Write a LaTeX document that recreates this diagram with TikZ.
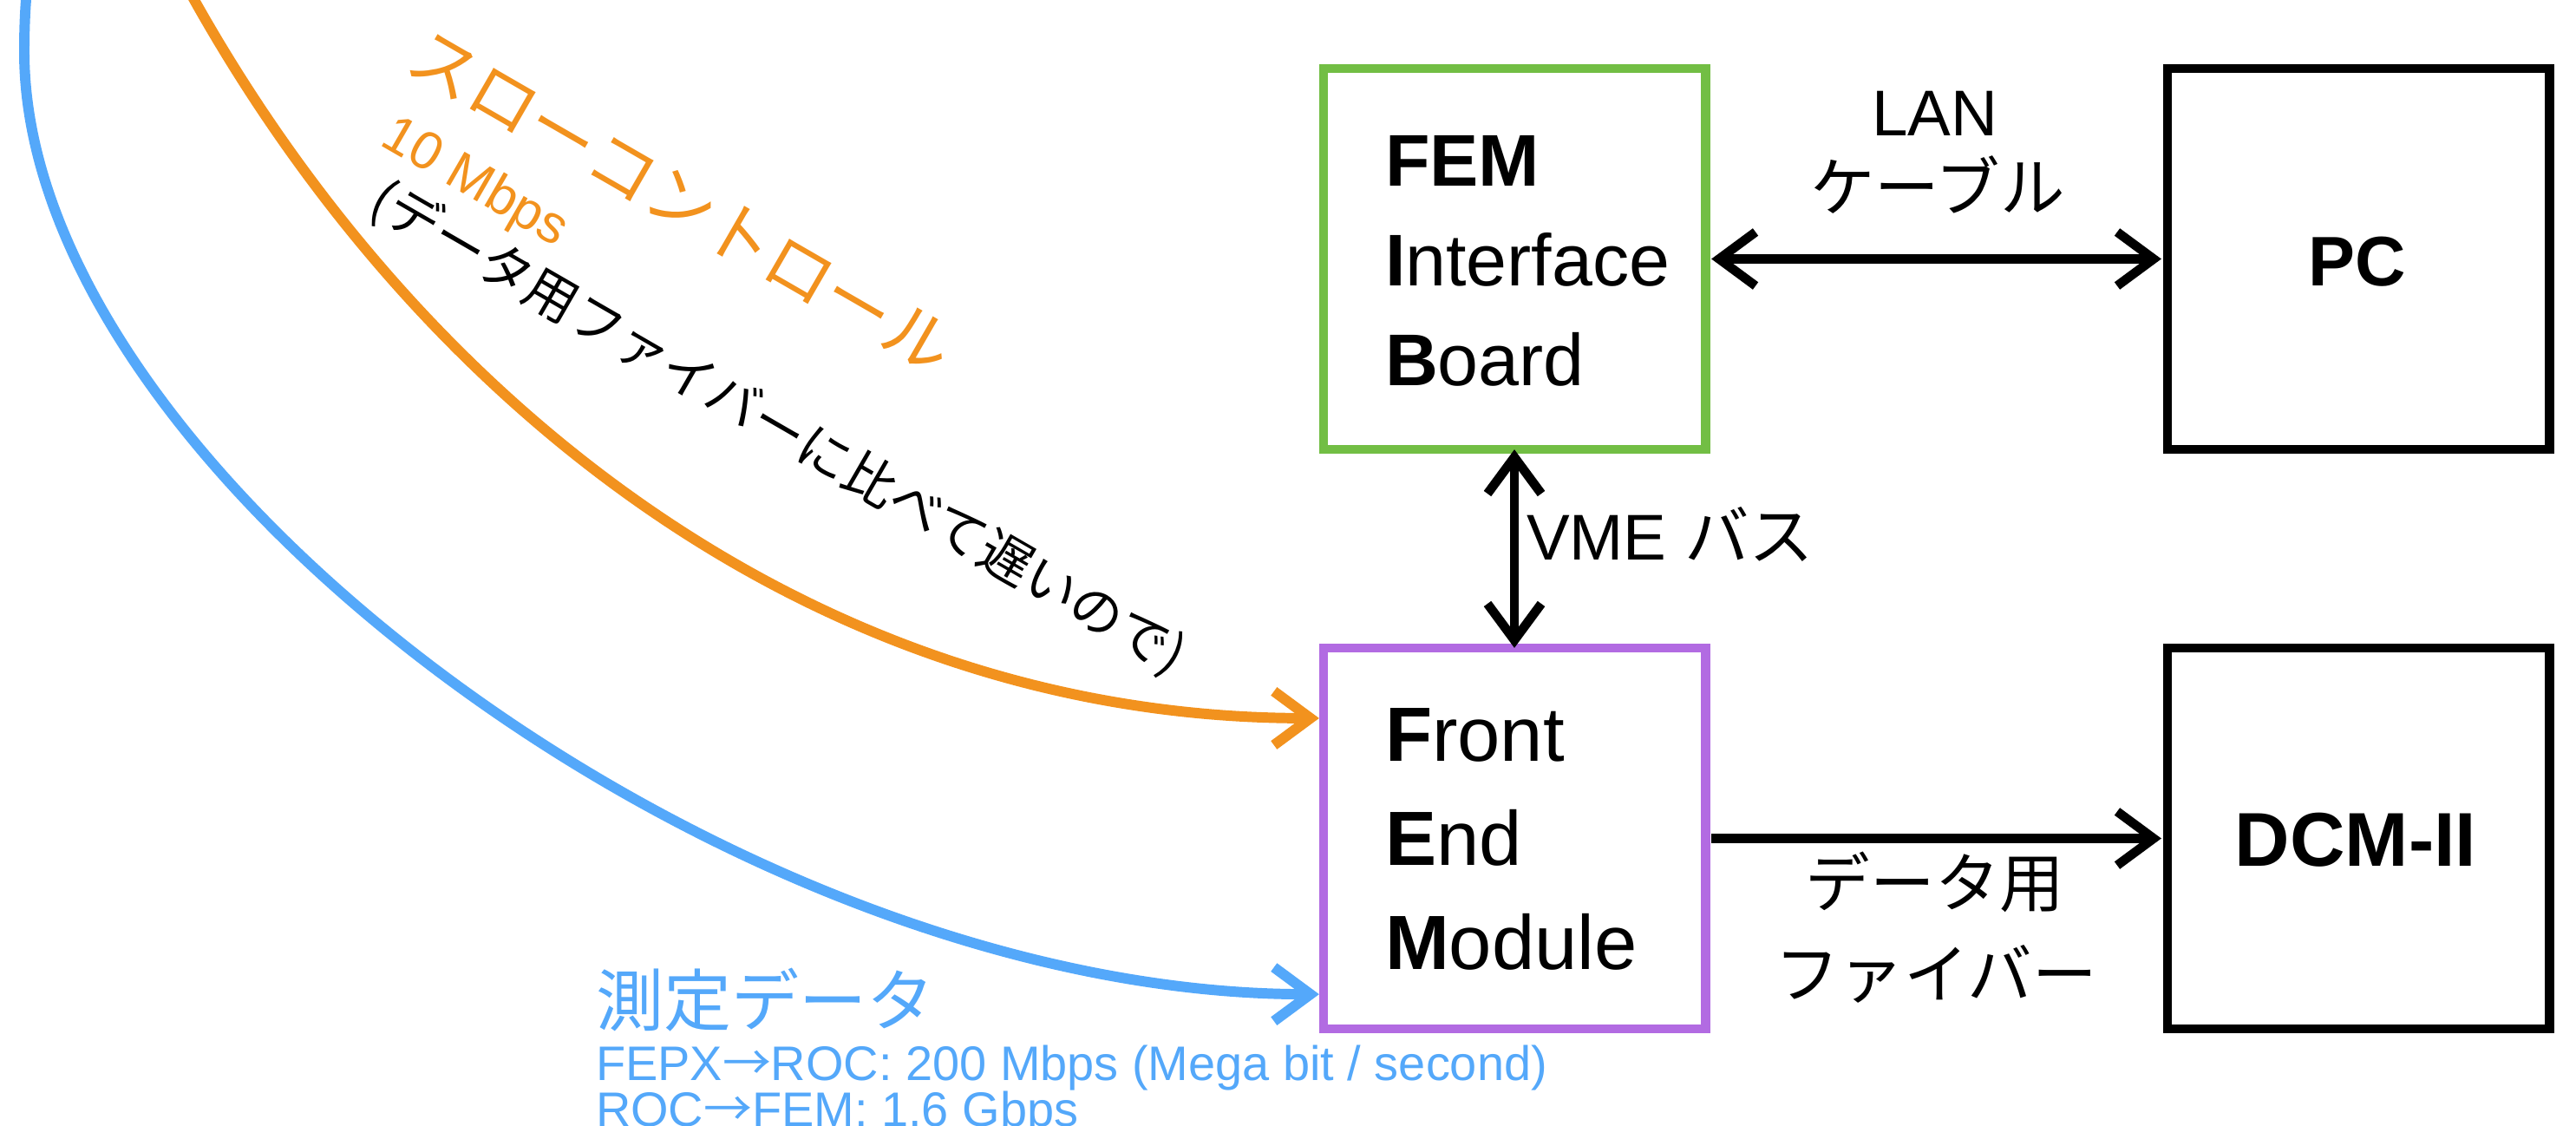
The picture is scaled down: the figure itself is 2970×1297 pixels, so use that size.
\documentclass[tikz,border=0pt]{standalone}
\usepackage{fontspec}
\setmainfont{Liberation Sans}
\newfontfamily\jp{Noto Sans CJK JP}
\usetikzlibrary{arrows.meta}
\definecolor{kOrange}{RGB}{242,146,30}
\definecolor{kBlue}{RGB}{84,168,250}
\definecolor{kGreen}{RGB}{114,190,68}
\definecolor{kPurple}{RGB}{178,107,226}
\begin{document}
\begin{tikzpicture}[x=0.01cm,y=-0.01cm,
  >={Straight Barb[length=0.42cm,width=0.62cm]},
  box/.style={draw, line width=3.04pt, minimum width=4.4cm, minimum height=4.39cm, outer sep=0pt, inner sep=0pt},
  conn/.style={line width=3pt},
  inflow/.style={line width=3.4pt, ->},
  txt/.style={inner sep=0pt, outer sep=0pt},
  boxtxtA/.style={txt, anchor=base west, font=\fontsize{24.0pt}{28pt}\selectfont},
  boxtxtB/.style={txt, anchor=base west, font=\fontsize{25.2pt}{30pt}\selectfont},
  lbl/.style={txt, anchor=base, font=\fontsize{21.2pt}{25pt}\selectfont},
]
\useasboundingbox (0,0) rectangle (2970,1297);

% boxes
\node[box, draw=kGreen] (feb) at (1746,298.5) {};
\node[box, draw=kPurple] (fem) at (1746,966.5) {};
\node[box, draw=black] (pc) at (2719,298.5) {};
\node[box, draw=black] (dcm) at (2719,966.5) {};

% box texts
\node[boxtxtA] (feb1) at (1597,215) {\bfseries FEM};
\node[boxtxtA] (feb2) at (1597,329) {\textbf{I}nterface};
\node[boxtxtA] (feb3) at (1597,444) {\textbf{B}oard};
\node[boxtxtB] (fem1) at (1597,877) {\textbf{F}ront};
\node[boxtxtB] (fem2) at (1597,997) {\textbf{E}nd};
\node[boxtxtB] (fem3) at (1597,1117) {\textbf{M}odule};
\node[txt, anchor=base, font=\fontsize{23pt}{26pt}\selectfont\bfseries] (pctxt) at (2718,329) {PC};
\node[txt, anchor=base, font=\fontsize{25pt}{30pt}\selectfont\bfseries] (dcmtxt) at (2716,998) {DCM-II};

% black connectors
\draw[conn, <->, shorten <=0.07cm, shorten >=0.07cm] (feb.east) -- (pc.west);
\draw[conn, <->] (feb.south) -- (fem.north);
\draw[conn, ->, shorten <=0.07cm, shorten >=0.07cm] (fem.east) -- (dcm.west);

% connector labels
\node[lbl] (lan1) at (2231,157) {LAN};
\node[lbl] (lan2) at (2234,244) {\jp ケーブル};
\node[lbl, anchor=base west] (vme) at (1760,645) {VME {\jp バス}};
\node[lbl] (fib1) at (2231,1045) {\jp データ用};
\node[lbl] (fib2) at (2232,1150) {\jp ファイバー};

% incoming curves
\coordinate (oS) at (200,-44);
\coordinate (oE) at ([xshift=-0.05cm,yshift=1.385cm]fem.west);
\draw[inflow, kOrange] (oS) .. controls (457,442) and (921,828) .. (oE);
\coordinate (bS) at (34,-40);
\coordinate (bT) at (28,60);
\coordinate (bE) at ([xshift=-0.05cm,yshift=-1.795cm]fem.west);
\draw[inflow, kBlue] (bS) .. controls (29,0) and (28,30) .. (bT) .. controls (28,540) and (841,1146) .. (bE);

% orange labels
\node[txt, rotate=-30, text=kOrange, font=\fontsize{22.4pt}{26pt}\selectfont\jp] (slow) at (786,232) {スローコントロール};
\node[txt, rotate=-30, text=kOrange, font=\fontsize{17.5pt}{20pt}\selectfont] (tenm) at (547,212) {10 Mbps};
\node[txt, rotate=-30, font=\fontsize{17.3pt}{21pt}\selectfont\jp] (slownote) at (897,494) {(データ用ファイバーに比べて遅いので)};

% blue labels
\node[txt, anchor=base west, text=kBlue, font=\fontsize{22.2pt}{26pt}\selectfont\jp] (meas) at (687,1182) {測定データ};
\node[txt, anchor=base west, text=kBlue, font=\fontsize{15.9pt}{19pt}\selectfont] (rate1) at (687,1245) {FEPX{\jp →}ROC: 200 Mbps (Mega bit / second)};
\node[txt, anchor=base west, text=kBlue, font=\fontsize{15.9pt}{19pt}\selectfont] (rate2) at (687,1298) {ROC{\jp →}FEM: 1.6 Gbps};
\end{tikzpicture}
\end{document}
